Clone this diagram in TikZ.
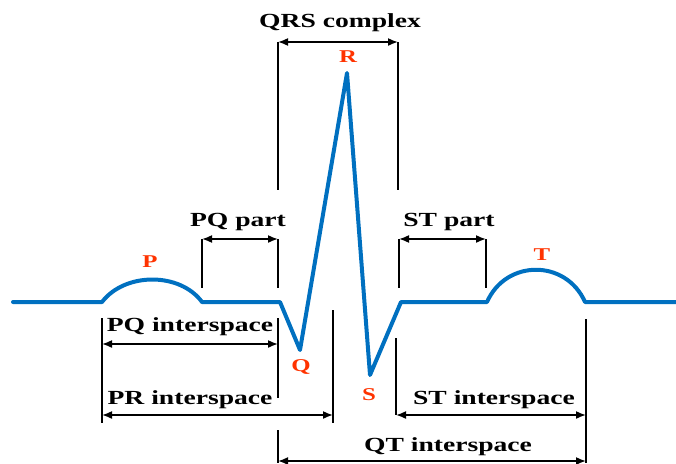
\documentclass[tikz,border=0pt]{standalone}
\usepackage{fontspec}
\setmainfont{Liberation Serif}
\usetikzlibrary{arrows.meta}
\definecolor{ecgblue}{RGB}{0,112,192}
\definecolor{ecgred}{RGB}{255,51,0}
\newcommand{\wide}[1]{\scalebox{1.38}[1]{#1}}

\begin{document}
\begin{tikzpicture}[x=1pt, y=-1pt,
  wave/.style={line width=4pt, color=ecgblue, line join=round, line cap=round},
  dimline/.style={line width=2pt},
  dimarrow/.style={{Latex[length=10pt,width=8pt]}-{Latex[length=10pt,width=8pt]}, line width=1.6pt},
  lbl/.style={font=\bfseries\fontsize{20}{20}\selectfont, inner sep=0pt},
  wavelbl/.style={font=\bfseries\fontsize{18}{18}\selectfont, text=ecgred, inner sep=0pt}]

  \useasboundingbox (0,0) rectangle (676,463);

  % Wave points
  \coordinate (w0) at (13,302);
  \coordinate (p0) at (102,302);
  \coordinate (p1) at (202,302);
  \coordinate (q0) at (280,302);
  \coordinate (qpt) at (300,350);
  \coordinate (rpt) at (347,73);
  \coordinate (spt) at (370,375);
  \coordinate (s0) at (401,302);
  \coordinate (t0) at (487,302);
  \coordinate (t1) at (585,302);
  \coordinate (w1) at (676,302);

  % ECG wave
  \draw[wave] (w0) -- (p0) .. controls (125,272) and (180,272) .. (p1) -- (q0) -- (qpt)
    -- (rpt) -- (spt) -- (s0) -- (t0) .. controls (506,259) and (566,259) .. (t1) -- (w1);

  % Wave labels
  \node[wavelbl] (P) at (150,262) {\wide{P}};
  \node[wavelbl] (Q) at (301,367) {\wide{Q}};
  \node[wavelbl] (R) at (348,57) {\wide{R}};
  \node[wavelbl] (S) at (369,395) {\wide{S}};
  \node[wavelbl] (T) at (542,255) {\wide{T}};

  % QRS complex
  \coordinate (qrsL) at (278,42);
  \coordinate (qrsLb) at (278,190);
  \coordinate (qrsR) at (398,42);
  \coordinate (qrsRb) at (398,190);
  \draw[dimline] (qrsL) -- (qrsLb);
  \draw[dimline] (qrsR) -- (qrsRb);
  \draw[dimarrow] (qrsL) -- (qrsR);
  \node[lbl] (qrs) at (340,23) {\wide{QRS complex}};

  % PQ part
  \coordinate (pqL) at (202,239);
  \coordinate (pqLb) at (202,288);
  \coordinate (pqR) at (278,239);
  \coordinate (pqRb) at (278,288);
  \draw[dimline] (pqL) -- (pqLb);
  \draw[dimline] (pqR) -- (pqRb);
  \draw[dimarrow] (pqL) -- (pqR);
  \node[lbl] (pqpart) at (238,222) {\wide{PQ part}};

  % ST part
  \coordinate (stL) at (399,239);
  \coordinate (stLb) at (399,288);
  \coordinate (stR) at (486,239);
  \coordinate (stRb) at (486,288);
  \draw[dimline] (stL) -- (stLb);
  \draw[dimline] (stR) -- (stRb);
  \draw[dimarrow] (stL) -- (stR);
  \node[lbl] (stpart) at (449,222) {\wide{ST part}};

  % Vertical marks below the wave
  \coordinate (m1t) at (102,318);
  \coordinate (m1b) at (102,423);
  \coordinate (m2t) at (278,318);
  \coordinate (m2b) at (278,398);
  \coordinate (m3t) at (333,310);
  \coordinate (m3b) at (333,423);
  \coordinate (m4t) at (396,338);
  \coordinate (m4b) at (396,415);
  \coordinate (m5t) at (586,319);
  \coordinate (m5b) at (586,463);
  \coordinate (m6t) at (278,430);
  \coordinate (m6b) at (278,463);
  \draw[dimline] (m1t) -- (m1b);
  \draw[dimline] (m2t) -- (m2b);
  \draw[dimline] (m3t) -- (m3b);
  \draw[dimline] (m4t) -- (m4b);
  \draw[dimline] (m5t) -- (m5b);
  \draw[dimline] (m6t) -- (m6b);

  % Interspace arrows
  \coordinate (pqiA) at (102,344);
  \coordinate (pqiB) at (278,344);
  \draw[dimarrow] (pqiA) -- (pqiB);
  \node[lbl] (pqi) at (190,327) {\wide{PQ interspace}};

  \coordinate (priA) at (102,415);
  \coordinate (priB) at (333,415);
  \draw[dimarrow] (priA) -- (priB);
  \node[lbl] (pri) at (190,400) {\wide{PR interspace}};

  \coordinate (stiB) at (586,415);
  \draw[dimarrow] (m4b) -- (stiB);
  \node[lbl] (sti) at (494,400) {\wide{ST interspace}};

  \coordinate (qtiA) at (278,461);
  \coordinate (qtiB) at (586,461);
  \draw[dimarrow] (qtiA) -- (qtiB);
  \node[lbl] (qti) at (448,447) {\wide{QT interspace}};

\end{tikzpicture}
\end{document}
